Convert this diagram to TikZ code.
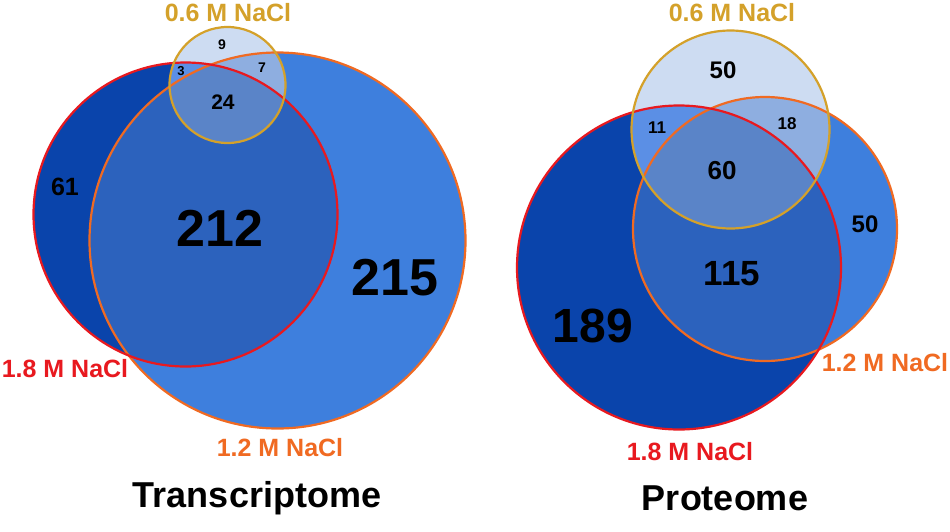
\documentclass[tikz,border=0pt]{standalone}
\usepackage{fontspec}
\setmainfont{Liberation Sans}
\definecolor{cDark}{HTML}{0A44AB}
\definecolor{cMid}{HTML}{3E7FDD}
\definecolor{cOver}{HTML}{2C62BD}
\definecolor{cLight}{HTML}{CDDCF2}
\definecolor{cLightMid}{HTML}{8EAEE0}
\definecolor{cLightDark}{HTML}{5B8FE5}
\definecolor{cTriple}{HTML}{5A84C8}
\definecolor{lRed}{HTML}{E8191F}
\definecolor{lOrange}{HTML}{F06A22}
\definecolor{lGold}{HTML}{D4A12A}
\begin{document}
\begin{tikzpicture}[x=1pt,y=-1pt,
  num/.style={font=\bfseries\fontsize{#1}{#1}\selectfont, text=black, inner sep=0pt},
  lab/.style={font=\bfseries\fontsize{25}{25}\selectfont, inner sep=0pt},
  ring/.style={line width=2.2pt}]
\useasboundingbox[fill=white] (0,0) rectangle (950,531);
% ---------- Transcriptome ----------
\def\LY{(227.5,85) circle[radius=58pt]}
\def\LO{(277.5,240.5) circle[radius=188pt]}
\def\LR{(185.5,214.5) circle[radius=152pt]}
\fill[cMid] \LO;
\fill[cDark] \LR;
\begin{scope}\clip \LR; \fill[cOver] \LO; \end{scope}
\fill[cLight] \LY;
\begin{scope}\clip \LY; \fill[cLightMid] \LO; \fill[cLightDark] \LR; \clip \LR; \fill[cTriple] \LO; \end{scope}
\draw[ring,lOrange] \LO;
\draw[ring,lRed] \LR;
\draw[ring,lGold] \LY;
\node[num=14] (t9) at (222,45) {9};
\node[num=13] (t3) at (181,71) {3};
\node[num=14] (t7) at (262,68) {7};
\node[num=21] (t24) at (223,102) {24};
\node[num=25] (t61) at (65,187) {61};
\node[num=52] (t212) at (220,228) {212};
\node[num=52] (t215) at (395,278) {215};
\node[lab,text=lGold] (tl06) at (228,13) {0.6 M NaCl};
\node[lab,text=lRed] (tl18) at (65,369) {1.8 M NaCl};
\node[lab,text=lOrange] (tl12) at (280,448) {1.2 M NaCl};
\node[num=36] (ttitle) at (257,498) {Transcriptome};
% ---------- Proteome ----------
\def\RY{(730.5,129.5) circle[radius=99pt]}
\def\RO{(765,229) circle[radius=132pt]}
\def\RR{(679,267.5) circle[radius=162pt]}
\fill[cMid] \RO;
\fill[cDark] \RR;
\begin{scope}\clip \RR; \fill[cOver] \RO; \end{scope}
\fill[cLight] \RY;
\begin{scope}\clip \RY; \fill[cLightMid] \RO; \fill[cLightDark] \RR; \clip \RR; \fill[cTriple] \RO; \end{scope}
\draw[ring,lOrange] \RO;
\draw[ring,lRed] \RR;
\draw[ring,lGold] \RY;
\node[num=24] (p50a) at (723,70) {50};
\node[num=17] (p11) at (657,128) {11};
\node[num=17] (p18) at (787,124) {18};
\node[num=26] (p60) at (722,171) {60};
\node[num=24] (p50b) at (865,224) {50};
\node[num=35] (p115) at (732,274) {115};
\node[num=48] (p189) at (593,326) {189};
\node[lab,text=lGold] (pl06) at (732,13) {0.6 M NaCl};
\node[lab,text=lOrange] (pl12) at (885,363) {1.2 M NaCl};
\node[lab,text=lRed] (pl18) at (690,452) {1.8 M NaCl};
\node[num=36] (ptitle) at (725,498) {Proteome};
\end{tikzpicture}
\end{document}
